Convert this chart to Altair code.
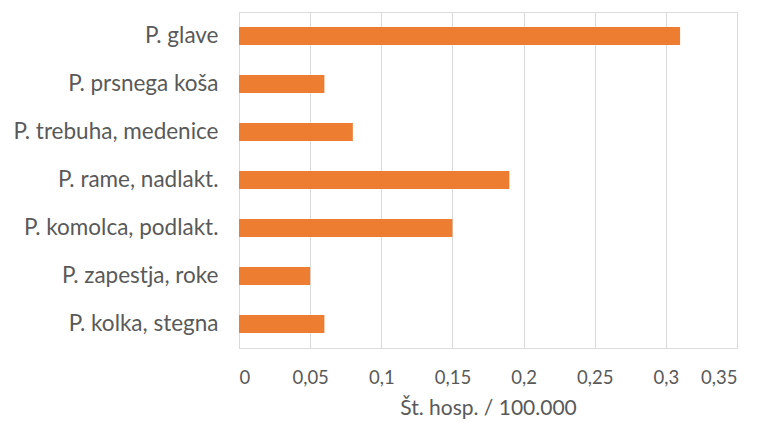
import altair as alt
import pandas as pd

categories = [
    "P. glave",
    "P. prsnega koša",
    "P. trebuha, medenice",
    "P. rame, nadlakt.",
    "P. komolca, podlakt.",
    "P. zapestja, roke",
    "P. kolka, stegna",
]
values = [0.31, 0.06, 0.08, 0.19, 0.15, 0.05, 0.06]
x_ticks = [0, 0.05, 0.1, 0.15, 0.2, 0.25, 0.3, 0.35]
x_title = "Št. hosp. / 100.000"

df = pd.DataFrame({"cat": categories, "val": values})

font = "Lato"
chart = (
    alt.Chart(df)
    .mark_bar(color="#ED7D31", size=18)
    .encode(
        x=alt.X(
            "val:Q",
            scale=alt.Scale(domain=[0, 0.35], nice=False),
            axis=alt.Axis(
                values=x_ticks,
                title=x_title,
                labelExpr="replace(format(datum.value, '.2~f'), '.', ',')",
                grid=True,
                gridColor="#d9d9d9",
                gridWidth=1,
                domain=False,
                ticks=False,
                labelFont=font,
                labelFontSize=18.5,
                labelColor="#595959",
                labelPadding=20,
                titleFont=font,
                titleFontSize=21,
                titleFontWeight="normal",
                titleColor="#595959",
                titlePadding=11,
            ),
        ),
        y=alt.Y(
            "cat:N",
            sort=categories,
            axis=alt.Axis(
                title=None,
                domain=False,
                ticks=False,
                grid=False,
                labelFont=font,
                labelFontSize=22.5,
                labelColor="#595959",
                labelPadding=21,
                labelLimit=400,
            ),
        ),
    )
    .properties(
        width=498,
        height=336,
        autosize=alt.AutoSizeParams(type="none"),
        padding={"left": 231, "top": 4, "right": 10, "bottom": 75},
    )
    .configure_view(stroke=None)
    .configure(background="white")
)

chart.save("out.html", embed_options={"renderer": "svg", "actions": False})
